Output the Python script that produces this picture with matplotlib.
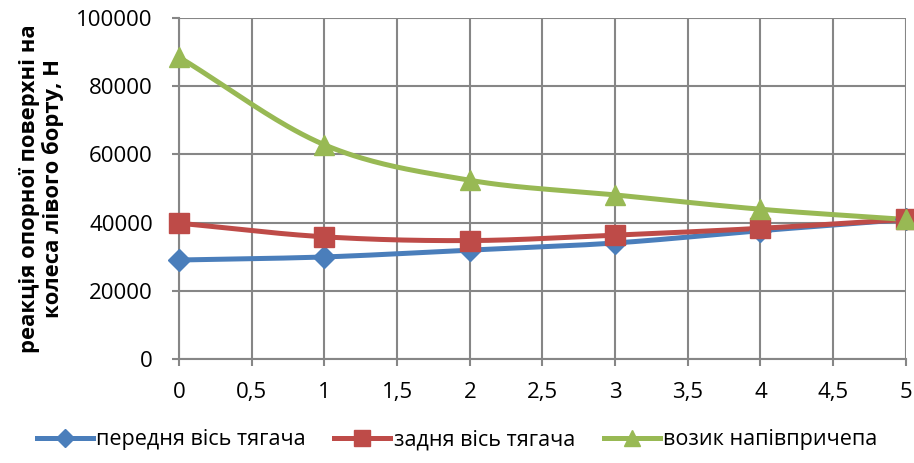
import numpy as np
import matplotlib
matplotlib.use("Agg")
import matplotlib.pyplot as plt
from matplotlib.ticker import FuncFormatter, MultipleLocator

plt.rcParams["font.family"] = ["Open Sans", "DejaVu Sans"]

x = [0, 1, 2, 3, 4, 5]
front_axle = [29000, 29900, 31900, 34000, 37600, 40900]
rear_axle = [39800, 35800, 34700, 36300, 38300, 40900]
trailer_bogie = [88500, 62800, 52400, 48100, 43900, 40900]

series_names = ["передня вісь тягача", "задня вісь тягача", "возик напівпричепа"]
colors = ["#4a7ebb", "#be4b48", "#98b954"]
markers = ["D", "s", "^"]
marker_sizes = [11, 14, 15]


def smooth(xs, ys, n=40):
    # Catmull-Rom style curve through the points, like spreadsheet "smoothed line"
    xs = np.asarray(xs, float)
    ys = np.asarray(ys, float)
    px = np.concatenate([[2 * xs[0] - xs[1]], xs, [2 * xs[-1] - xs[-2]]])
    py = np.concatenate([[2 * ys[0] - ys[1]], ys, [2 * ys[-1] - ys[-2]]])
    out_x, out_y = [], []
    for i in range(1, len(px) - 2):
        t = np.linspace(0, 1, n)
        for arr, out in ((px, out_x), (py, out_y)):
            p0, p1, p2, p3 = arr[i - 1], arr[i], arr[i + 1], arr[i + 2]
            out.extend(0.5 * ((2 * p1) + (-p0 + p2) * t
                              + (2 * p0 - 5 * p1 + 4 * p2 - p3) * t ** 2
                              + (-p0 + 3 * p1 - 3 * p2 + p3) * t ** 3))
    return np.array(out_x), np.array(out_y)


fig = plt.figure(figsize=(9.14, 4.63), dpi=100)
ax = fig.add_axes([0.196, 0.225, 0.795, 0.736])

grid_color = "#868686"
for ys, name, c, m, ms in zip([front_axle, rear_axle, trailer_bogie],
                              series_names, colors, markers, marker_sizes):
    sx, sy = smooth(x, ys)
    ax.plot(sx, sy, color=c, lw=3.6, solid_capstyle="round", zorder=3, clip_on=False)
    ax.plot(x, ys, ls="none", marker=m, ms=ms, color=c, zorder=4, clip_on=False)
    ax.plot([], [], color=c, lw=3.6, marker=m, ms=ms * 0.8, label=name)

ax.set_xlim(0, 5)
ax.set_ylim(0, 100000)
ax.xaxis.set_major_locator(MultipleLocator(0.5))
ax.yaxis.set_major_locator(MultipleLocator(20000))
ax.xaxis.set_major_formatter(FuncFormatter(lambda v, p: f"{v:g}".replace(".", ",")))
ax.yaxis.set_major_formatter(FuncFormatter(lambda v, p: f"{v:.0f}"))
ax.grid(True, color=grid_color, lw=1.5)
ax.set_axisbelow(True)
for side in ["top", "right"]:
    ax.spines[side].set_visible(False)
for side in ["left", "bottom"]:
    ax.spines[side].set_color(grid_color)
    ax.spines[side].set_linewidth(1.5)
ax.tick_params(axis="both", colors=grid_color, width=1.5, length=5, labelsize=16,
               labelcolor="black")
ax.tick_params(axis="x", pad=12)
ax.tick_params(axis="y", pad=14)
ax.set_ylabel("реакція опорної поверхні на\nколеса лівого борту, Н",
              fontsize=15.8, fontweight="bold", linespacing=1.15)
ax.yaxis.set_label_coords(-0.158, 0.5)

fig.legend(loc="center", bbox_to_anchor=(0.5, 1 - 440 / 463), ncol=3, frameon=False,
           fontsize=15.5, handlelength=2.6, handletextpad=0.15, columnspacing=1.35)

fig.savefig("out.png", dpi=100)
